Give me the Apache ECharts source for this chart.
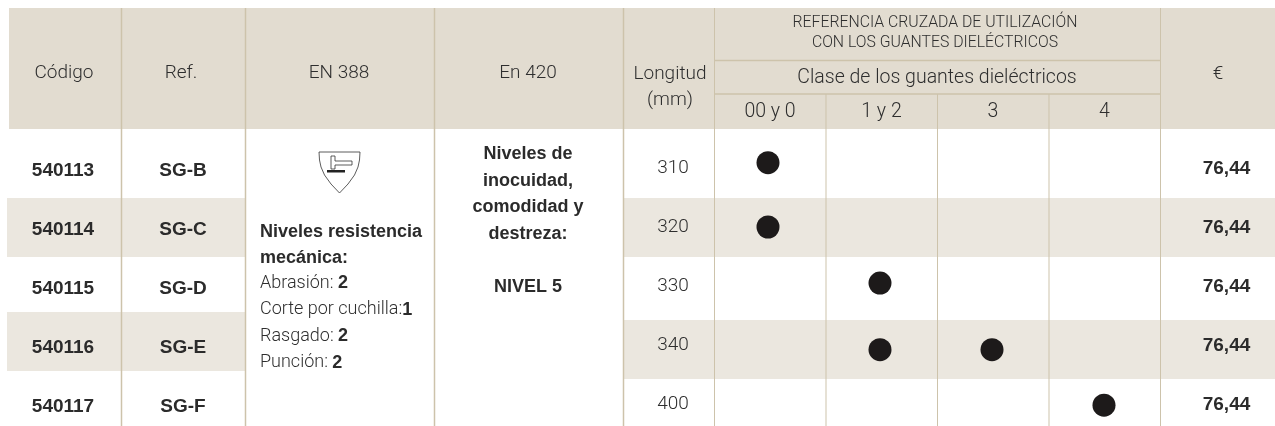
<!DOCTYPE html>
<html><head><meta charset="utf-8">
<style>html,body{margin:0;padding:0;background:#fff}#c{width:1275px;height:426px}</style>
<script src="https://cdn.jsdelivr.net/npm/echarts@6/dist/echarts.min.js"></script>
</head><body><div id="c"></div>
<script>
const codes = ['540113','540114','540115','540116','540117'];
const refs = ['SG-B','SG-C','SG-D','SG-E','SG-F'];
const lengths = ['310','320','330','340','400'];
const prices = ['76,44','76,44','76,44','76,44','76,44'];
const gloveClasses = ['00 y 0','1 y 2','3','4'];
// [class index, row position]
const marks = [[0,-0.09],[0,1.0],[1,1.95],[1,3.08],[2,3.08],[3,4.02]];
const headers = ['Código','Ref.','EN 388','En 420','€'];
const crossRef = 'REFERENCIA CRUZADA DE UTILIZACIÓN\nCON LOS GUANTES DIELÉCTRICOS';
const classTitle = 'Clase de los guantes dieléctricos';
const lengthHeader = 'Longitud\n(mm)';
const en420 = 'Niveles de\ninocuidad,\ncomodidad y\ndestreza:';
const en420Level = 'NIVEL 5';
const en388Title = 'Niveles resistencia\nmecánica:';
const en388Rows = [['Abrasión: ','2'],['Corte por cuchilla:','1'],['Rasgado: ','2'],['Punción: ','2']];

const HEAD='#e2dcd0', BAND='#ebe7df', RULE='#cdc3ab', LIGHT='Roboto', BOLD='"Liberation Sans"', INK='#2b2b2b', THIN='#2e2e2e';
const rect=(x,y,w,h,fill)=>({type:'rect',shape:{x,y,width:w,height:h},style:{fill},silent:true});
const vline=(x,y1,y2,w)=>({type:'line',shape:{x1:x,y1,x2:x,y2},style:{stroke:RULE,lineWidth:w||1},silent:true});
const hline=(y,x1,x2)=>({type:'line',shape:{x1,y1:y,x2,y2:y},style:{stroke:RULE,lineWidth:1.5},silent:true});
const txt=(x,y,text,o)=>({type:'text',x,y,z:5,silent:true,style:Object.assign({text,fill:THIN,align:'center',verticalAlign:'middle',font:'300 19px '+LIGHT},o||{})});

const graphicEls=[
 rect(9,8,1266,121,HEAD),
 rect(7,198,238,59,BAND), rect(7,312,238,59,BAND),
 rect(623,198,652,59,BAND), rect(623,320,652,59,BAND),
 ...[121,245,434,623].map(x=>vline(x+.5,8,426,1.5)),
 ...[714,825.5,937,1048.5,1160].map((x,i)=>vline(x+.5,(i>0&&i<4)?94:8,426,1)),
 hline(60.5,714,1160), hline(94,714,1160),
 txt(64,73,headers[0]), txt(181,73,headers[1]), txt(339,73,headers[2]), txt(528,73,headers[3]), txt(1218,74,headers[4]),
 txt(670,87,lengthHeader,{lineHeight:26}),
 txt(935,33,crossRef,{font:'300 15.8px '+LIGHT,lineHeight:20.5}),
 txt(937,78,classTitle,{font:'300 19.5px '+LIGHT}),
 ...gloveClasses.map((c,i)=>txt(770+111.5*i,112,c,{font:'300 19.5px '+LIGHT})),
 txt(528,194,en420,{font:'bold 18px '+BOLD,lineHeight:26.7,fill:INK}),
 txt(528,287,en420Level,{font:'bold 18px '+BOLD,fill:INK}),
 txt(260,245,en388Title,{align:'left',font:'bold 18px '+BOLD,lineHeight:26.5,fill:INK}),
 ...en388Rows.map((r,i)=>({type:'text',x:260,y:283+26.6*i,z:5,silent:true,style:{
   text:'{a|'+r[0]+'}{b|'+r[1]+'}',verticalAlign:'middle',
   rich:{a:{font:'300 18px '+LIGHT,fill:THIN},b:{font:'bold 18px '+BOLD,fill:INK}}}})),
 // EN 388 pictogram
 {type:'polygon',silent:true,shape:{points:[[319,152],[360,152],[359.5,160],[358,167],[354.5,175],[348,184],[339.5,193],[331,184],[324.5,175],[321,167],[319.5,160]]},style:{fill:'#fff',stroke:'#333',lineWidth:0.8}},
 {type:'polygon',silent:true,shape:{points:[[331,156],[335,156],[335,161],[352,161],[352,165],[335,165],[335,169],[331,169]]},style:{fill:'#fff',stroke:'#333',lineWidth:0.8}},
 rect(327,170,18,2.5,'#222')
];

// the row scale stops just below the last row so that every grid stays inside the canvas
const ROW_H=59, ROW_MIN=-0.5, ROW_MAX=4.3;
const rowY=v=>({type:'value',inverse:true,min:ROW_MIN,max:ROW_MAX,show:false,gridIndex:v});
const textColumn=(idx,vals,weight,family,size,color)=>({type:'scatter',xAxisIndex:idx,yAxisIndex:idx,symbolSize:1,silent:true,clip:false,
  itemStyle:{color:'transparent',opacity:1},
  data:vals.map((v,i)=>({value:[0,i],name:v})),
  label:{show:true,position:'inside',formatter:p=>p.name,fontWeight:weight,fontFamily:family,fontSize:size,color}});
const cols=[
 {left:8,width:110,top:141},{left:121,width:124,top:141},
 {left:632,width:82,top:139},{left:1178,width:97,top:139.5},
 {left:712,width:448,top:138.5}
];
const chart=echarts.init(document.getElementById('c'),null,{renderer:'canvas'});
chart.setOption({
 animation:false,
 graphic:{elements:graphicEls},
 grid:cols.map(c=>({left:c.left,width:c.width,top:c.top,height:ROW_H*(ROW_MAX-ROW_MIN)})),
 xAxis:cols.map((c,i)=>({type:'category',gridIndex:i,show:false,data:i===4?gloveClasses:['']})),
 yAxis:cols.map((c,i)=>rowY(i)),
 series:[
  textColumn(0,codes,'bold','Liberation Sans',19,INK),
  textColumn(1,refs,'bold','Liberation Sans',19,INK),
  textColumn(2,lengths,300,'Roboto',19,THIN),
  textColumn(3,prices,'bold','Liberation Sans',19,INK),
  {type:'scatter',xAxisIndex:4,yAxisIndex:4,symbol:'circle',symbolSize:23,silent:true,itemStyle:{color:'#1d1a1a',opacity:1},clip:false,data:marks}
 ]
});
</script></body></html>
